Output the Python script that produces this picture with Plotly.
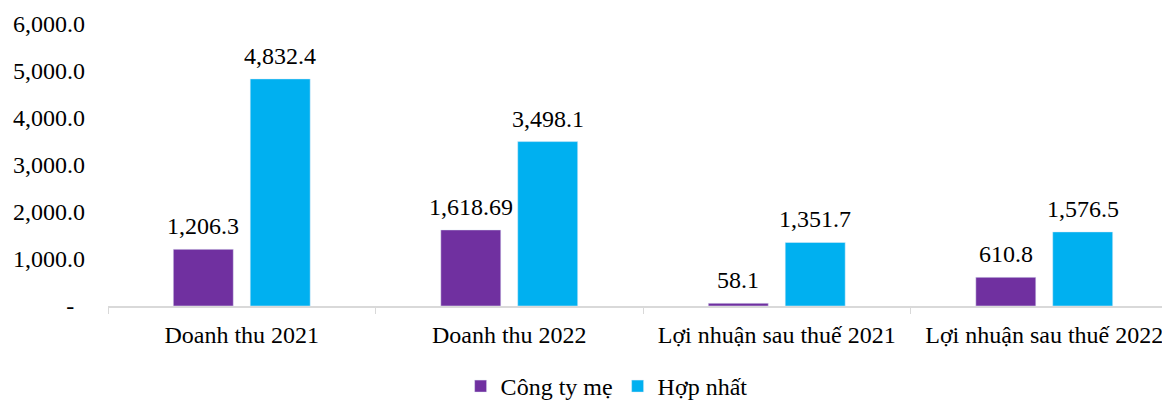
import plotly.graph_objects as go

# Data
categories = ["Doanh thu 2021", "Doanh thu 2022", "Lợi nhuận sau thuế 2021", "Lợi nhuận sau thuế 2022"]
cong_ty_me = [1206.3, 1618.69, 58.1, 610.8]
hop_nhat = [4832.4, 3498.1, 1351.7, 1576.5]
y_ticks = [0, 1000, 2000, 3000, 4000, 5000, 6000]
y_tick_labels = ["-\u00a0\u2009"] + [f"{v:,.1f}" for v in y_ticks[1:]]

font_family = "Liberation Serif"
colors = {"Công ty mẹ": "#7030A0", "Hợp nhất": "#00B0F0"}

fig = go.Figure()

for name, values in [("Công ty mẹ", cong_ty_me), ("Hợp nhất", hop_nhat)]:
    fig.add_trace(go.Bar(
        name=name,
        x=categories,
        y=values,
        marker_color=colors[name],
    ))

# value labels a bit above each bar (Excel-style spacing)
for shift, values in [(-38.5, cong_ty_me), (38.5, hop_nhat)]:
    for cat, v in zip(categories, values):
        fig.add_annotation(
            x=cat, y=v, text=f"{v:,}",
            xshift=shift, yshift=8,
            yanchor="bottom", showarrow=False,
            font=dict(size=24, color="#000", family=font_family),
        )

# note: page body has an 8px margin, so margins are offset to compensate
fig.update_layout(
    width=1170,
    height=401,
    margin=dict(l=100, r=0, t=16, b=102),
    paper_bgcolor="white",
    plot_bgcolor="white",
    font=dict(family=font_family, size=24, color="#000"),
    barmode="group",
    bargap=0.425,
    bargroupgap=0.22,
    showlegend=True,
    legend=dict(
        orientation="h",
        x=0.466, xanchor="center",
        y=-0.286, yanchor="middle",
        font=dict(size=24),
        itemwidth=30,
    ),
)

fig.update_xaxes(
    range=[-0.5, 3.5],
    automargin=False,
    showline=True,
    linecolor="#d9d9d9",
    linewidth=1.5,
    ticks="outside",
    tickson="boundaries",
    ticklen=6,
    tickcolor="#d9d9d9",
    showgrid=False,
    ticklabelstandoff=6,
    tickfont=dict(size=24),
)

fig.update_yaxes(
    range=[0, 6000],
    automargin=False,
    tickvals=y_ticks,
    ticktext=y_tick_labels,
    showgrid=False,
    showline=False,
    zeroline=False,
    ticks="",
    ticklabelstandoff=22,
    tickfont=dict(size=24),
)

fig.write_html("out.html")
